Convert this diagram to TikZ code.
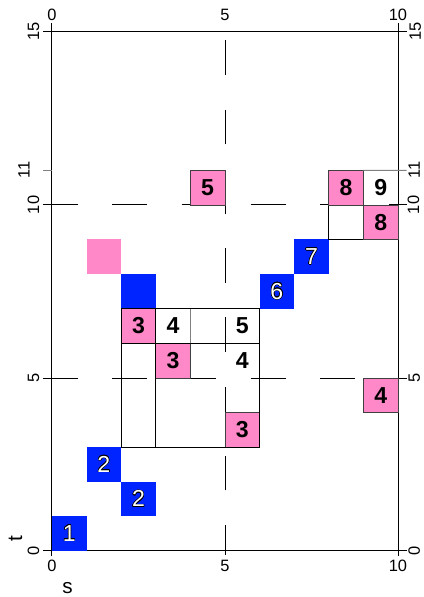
\documentclass[tikz,border=0pt]{standalone}
\usepackage{fontspec}
\setmainfont{Liberation Sans}
\usepackage[copies]{contour}
\contourlength{0.45pt}
\usepackage{xcolor}
\usetikzlibrary{positioning}
\definecolor{cellblue}{RGB}{0,36,255}
\definecolor{cellpink}{RGB}{255,136,200}

\tikzset{
  cell/.style={minimum size=1cm, inner sep=0pt, outer sep=0pt, anchor=south west},
  bluecell/.style={cell, fill=cellblue, text=white, font=\fontsize{19}{19}\selectfont},
  pinkcell/.style={cell, fill=cellpink, draw=black!75, line width=0.5pt, font=\bfseries\fontsize{19}{19}\selectfont},
  pinkblank/.style={cell, fill=cellpink},
  whitecell/.style={cell, draw=black, line width=0.5pt, font=\bfseries\fontsize{19}{19}\selectfont},
  plaincell/.style={cell, font=\bfseries\fontsize{19}{19}\selectfont},
  ticklabel/.style={font=\fontsize{13.5}{13.5}\selectfont, inner sep=0pt},
  axisname/.style={font=\fontsize{17}{17}\selectfont, inner sep=0pt},
  crossline/.style={line width=0.7pt, dash pattern=on 1cm off 1cm},
}

\begin{document}
\begin{tikzpicture}
\useasboundingbox (-1.5,-1.33) rectangle (10.75,15.92);

\draw[crossline] (-0.25,5) -- (10.25,5);
\draw[crossline] (-0.25,10) -- (10.25,10);
\draw[crossline, dash phase=0.13cm] (5,-0.12) -- (5,14.75);

\draw[line width=0.8pt] (0,0) rectangle (10,15);
\draw[line width=0.8pt] (0,15) -- (0,15.25);
\draw[line width=0.8pt] (10,15) -- (10,15.25);
\draw[line width=0.8pt] (0,0) -- (0,-0.15);
\draw[line width=0.8pt] (10,0) -- (10,-0.15);
\draw[line width=0.8pt] (0,0) -- (-0.25,0);
\draw[line width=0.8pt] (0,15) -- (-0.25,15);
\draw[line width=0.8pt] (10,0) -- (10.25,0);
\draw[line width=0.8pt] (10,15) -- (10.25,15);
\draw[gray, line width=0.8pt] (0,11) -- (-0.25,11);

\node[ticklabel] (s0) at (0,-0.42) {0};
\node[ticklabel] (s5) at (5,-0.42) {5};
\node[ticklabel] (s10) at (10,-0.42) {10};
\node[ticklabel] (u0) at (0,15.5) {0};
\node[ticklabel] (u5) at (5,15.5) {5};
\node[ticklabel] (u10) at (10,15.5) {10};
\node[ticklabel, rotate=90] (l0) at (-0.53,0) {0};
\node[ticklabel, rotate=90] (l5) at (-0.53,5) {5};
\node[ticklabel, rotate=90] (l10) at (-0.53,10) {10};
\node[ticklabel, rotate=90] (l11) at (-0.81,11) {11};
\node[ticklabel, rotate=90] (l15) at (-0.53,15) {15};
\node[ticklabel, rotate=90] (r0) at (10.47,0) {0};
\node[ticklabel, rotate=90] (r5) at (10.47,5) {5};
\node[ticklabel, rotate=90] (r10) at (10.45,10) {10};
\node[ticklabel, rotate=90] (r11) at (10.47,11) {11};
\node[ticklabel, rotate=90] (r15) at (10.5,15) {15};
\node[axisname] (sname) at (0.45,-1.07) {s};
\node[axisname, rotate=90] (tname) at (-1.05,0.36) {t};

\node[bluecell] (b1) at (0,0) {\contour{black}{1}};
\node[bluecell] (b2) at (1,2) {\contour{black}{2}};
\node[bluecell] (b2b) at (2,1) {\contour{black}{2}};
\node[bluecell] (b0) at (2,7) {};
\node[bluecell] (b6) at (6,7) {\contour{black}{6}};
\node[bluecell] (b7) at (7,8) {\contour{black}{7}};
\node[pinkblank] (p0) at (1,8) {};

\node[pinkcell] (p3a) at (2,6) {3};
\node[plaincell] (w4a) at (3,6) {4};
\node[plaincell] (w5) at (5,6) {5};
\node[pinkcell] (p3b) at (3,5) {3};
\node[plaincell] (w4b) at (5,5) {4};
\node[pinkcell] (p3c) at (5,3) {3};
\draw[line width=0.6pt] (2,3) rectangle (6,7);
\draw[line width=0.6pt] (2,6) -- (6,6);
\draw[line width=0.6pt] (3,3) -- (3,7);
\draw[gray, line width=0.6pt] (4,6) -- (4,7);

\node[pinkcell] (p5) at (4,10) {5};
\node[pinkcell] (p4) at (9,4) {4};
\node[whitecell] (w0) at (8,9) {};
\node[pinkcell] (p8a) at (8,10) {8};
\node[pinkcell] (p8b) at (9,9) {8};
\node[plaincell] (w9) at (9,10) {9};
\draw[gray, line width=0.8pt] (p8a.north east) -- (10.25,11);
\end{tikzpicture}
\end{document}
